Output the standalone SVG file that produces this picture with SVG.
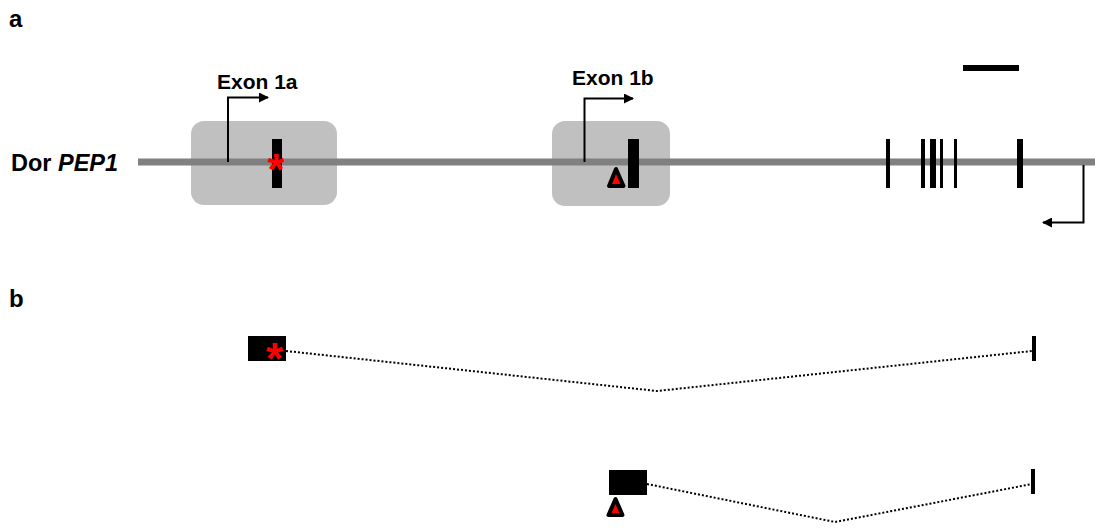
<svg xmlns="http://www.w3.org/2000/svg" width="1095" height="528" viewBox="0 0 1095 528">
<style>
.lbl{font-family:"Liberation Sans",Arial,sans-serif;font-weight:bold;fill:#000}
.box{fill:#c0c0c0}
.exon{fill:#000}
.arr{fill:none;stroke:#000;stroke-width:2}
.dot{fill:none;stroke:#000;stroke-width:2;stroke-dasharray:2 2}
.ast{font-family:"Liberation Sans",Arial,sans-serif;font-weight:bold;fill:#ff0000}
.tri{fill:#ff0000;stroke:#000;stroke-width:4;stroke-linejoin:round}
</style>
<defs>
<marker id="ah" viewBox="0 0 10 10" refX="9" refY="5" markerWidth="5" markerHeight="5" orient="auto" markerUnits="strokeWidth">
<path d="M0,0 L10,5 L0,10 z" fill="#000"/>
</marker>
</defs>
<rect width="1095" height="528" fill="#fff"/>
<g id="panel-labels">
<text class="lbl" x="9" y="27" font-size="24">a</text>
<text class="lbl" x="9" y="307" font-size="24">b</text>
</g>
<g id="gene-label">
<text class="lbl" x="11" y="171" font-size="23.5">Dor <tspan font-style="italic">PEP1</tspan></text>
</g>
<g id="promoter-box-1a"><rect class="box" x="191" y="121" width="146" height="84" rx="13"/></g>
<g id="promoter-box-1b"><rect class="box" x="552" y="121" width="118" height="85" rx="13"/></g>
<g id="gene-line"><rect x="138" y="158.5" width="957" height="7" fill="#808080"/></g>
<g id="exon-1a">
<rect class="exon" x="272" y="139" width="10" height="49"/>
<text class="ast" x="276" y="185" font-size="44" text-anchor="middle">*</text>
<text class="lbl" x="217" y="89" font-size="21">Exon 1a</text>
</g>
<g id="exon-1b">
<rect class="exon" x="628" y="139" width="11" height="49"/>
<polygon class="tri" points="616,169 609,186 623.5,186"/>
<text class="lbl" x="572" y="85" font-size="21">Exon 1b</text>
</g>
<g id="downstream-exons">
<rect class="exon" x="886" y="139" width="4" height="49"/>
<rect class="exon" x="921" y="139" width="4" height="49"/>
<rect class="exon" x="930" y="139" width="6" height="49"/>
<rect class="exon" x="940" y="139" width="3" height="49"/>
<rect class="exon" x="954" y="139" width="3" height="49"/>
<rect class="exon" x="1017" y="139" width="6" height="49"/>
</g>
<g id="scale-bar"><rect class="exon" x="963" y="65" width="56" height="6"/></g>
<g id="connectors">
<path class="arr" d="M228,162 V97.5 H268" marker-end="url(#ah)"/>
<path class="arr" d="M584.5,162 V98.5 H633" marker-end="url(#ah)"/>
<path class="arr" d="M1083.5,165 V222.5 H1043" stroke-width="1.8" marker-end="url(#ah)"/>
<path class="dot" d="M286,351 L657,391 L1032,351"/>
<path class="dot" d="M647,484 L835,522 L1032,484"/>
</g>
<g id="transcript-1a">
<rect class="exon" x="248" y="336" width="38" height="25"/>
<text class="ast" x="274.5" y="374" font-size="44" text-anchor="middle">*</text>
<rect class="exon" x="1032" y="336" width="4" height="25"/>
</g>
<g id="transcript-1b">
<rect class="exon" x="609" y="470" width="38" height="25"/>
<polygon class="tri" points="615.5,499 608.5,515 622.5,515"/>
<rect class="exon" x="1031" y="469" width="4" height="25"/>
</g>
</svg>
